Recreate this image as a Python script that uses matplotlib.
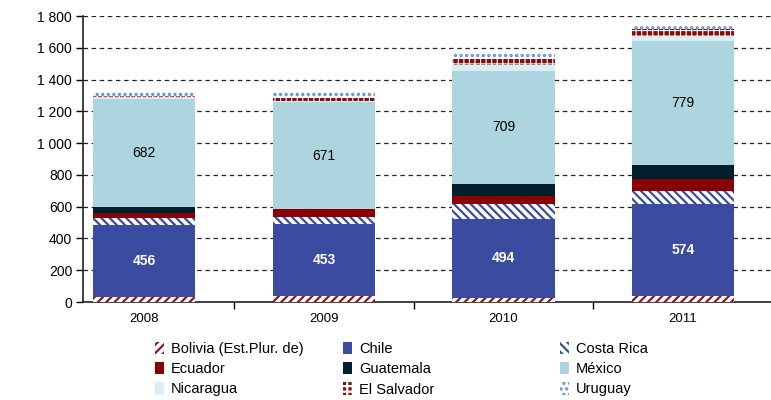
import numpy as np
import matplotlib.pyplot as plt
from matplotlib.patches import Patch

plt.rcParams['font.family'] = ['Liberation Sans', 'DejaVu Sans']

# Data
years = ['2008', '2009', '2010', '2011']
bolivia = [30, 35, 28, 40]
chile = [456, 453, 494, 574]
costa_rica = [42, 50, 92, 84]
ecuador = [32, 48, 54, 76]
guatemala = [37, 0, 76, 88]
mexico = [682, 671, 709, 779]
nicaragua = [8, 8, 38, 30]
el_salvador = [12, 20, 38, 46]
uruguay = [30, 40, 40, 35]

series = [
    ('Bolivia (Est.Plur. de)', bolivia, 'white', '#8B1A1A', '////', 1.6),
    ('Chile', chile, '#3A4BA0', '#3A4BA0', None, 1.0),
    ('Costa Rica', costa_rica, 'white', '#3A4BA0', '\\\\\\\\', 1.6),
    ('Ecuador', ecuador, '#8B0000', '#8B0000', None, 1.0),
    ('Guatemala', guatemala, '#00212B', '#00212B', None, 1.0),
    ('México', mexico, '#ADD5DF', '#ADD5DF', None, 1.0),
    ('Nicaragua', nicaragua, '#DAEEF5', '#DAEEF5', None, 1.0),
    ('El Salvador', el_salvador, '#8B0A0A', 'white', '+++', 0.8),
    ('Uruguay', uruguay, 'white', '#5E93D8', '...', 1.6),
]

fig = plt.figure(figsize=(7.71, 4.0), dpi=100)
ax = fig.add_axes([0.108, 0.245, 0.892, 0.715])

x = np.arange(len(years))
width = 0.57
bottom = np.zeros(len(years))
handles = {}
for name, vals, fc, ec, hatch, hlw in series:
    plt.rcParams['hatch.linewidth'] = hlw
    vals = np.array(vals, dtype=float)
    ax.bar(x, vals, width, bottom=bottom, color=fc, edgecolor=ec,
           hatch=hatch, linewidth=0, zorder=3)
    handles[name] = Patch(facecolor=fc, edgecolor=ec, hatch=hatch, linewidth=0)
    if name == 'Chile':
        for xi, b, v in zip(x, bottom, vals):
            ax.text(xi, b + v / 2, f'{int(v)}', ha='center', va='center',
                    color='white', fontsize=10, fontweight='bold', zorder=4)
    if name == 'México':
        for xi, b, v in zip(x, bottom, vals):
            ax.text(xi, b + v / 2, f'{int(v)}', ha='center', va='center',
                    color='black', fontsize=10, zorder=4)
    bottom += vals

ax.set_ylim(0, 1800)
ax.set_xlim(-0.34, 3.49)
ax.set_yticks(np.arange(0, 1801, 200))
ax.set_yticklabels([f'{v:,}'.replace(',', ' ') for v in range(0, 1801, 200)], fontsize=10)
ax.set_xticks(x)
ax.set_xticklabels(years, fontsize=9.5)
ax.set_xticks([0.5, 1.5, 2.5], minor=True)
ax.tick_params(axis='x', which='major', length=0, pad=8)
ax.tick_params(axis='x', which='minor', length=5, width=1, direction='out')
ax.tick_params(axis='y', length=5, width=1, direction='out', pad=3)

for s in ['top', 'right']:
    ax.spines[s].set_visible(False)
for s in ['left', 'bottom']:
    ax.spines[s].set_color('#222222')
    ax.spines[s].set_linewidth(1.2)

ax.yaxis.grid(True, color='#222222', linewidth=0.9, linestyle=(0, (3.6, 2.9)), zorder=0)
ax.set_axisbelow(True)

# legend in three columns
cols = [['Bolivia (Est.Plur. de)', 'Ecuador', 'Nicaragua'],
        ['Chile', 'Guatemala', 'El Salvador'],
        ['Costa Rica', 'México', 'Uruguay']]
xpos = [155 / 771, 343 / 771, 560 / 771]
for names, xp in zip(cols, xpos):
    fig.legend([handles[n] for n in names], names, loc='upper left',
               bbox_to_anchor=(xp, 1 - 342 / 400), frameon=False, fontsize=10.5,
               handlelength=0.6, handleheight=0.9, handletextpad=0.5,
               labelspacing=0.42, borderpad=0, borderaxespad=0)

fig.savefig('out.png', dpi=100)
